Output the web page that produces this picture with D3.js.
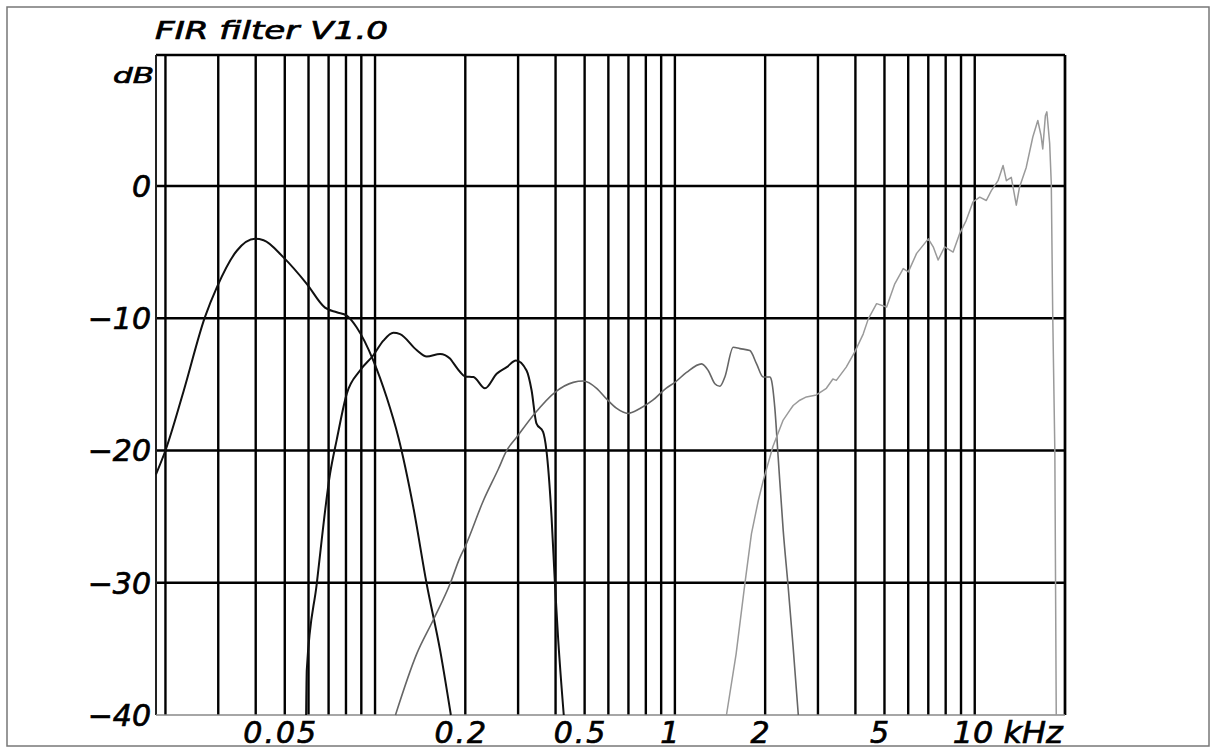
<!DOCTYPE html>
<html>
<head>
<meta charset="utf-8">
<script src="https://cdn.jsdelivr.net/npm/d3@7"></script>
<style>
  html, body { margin: 0; padding: 0; background: #fff; }
  svg { display: block; }
  text { font-family: "DejaVu Sans", "Liberation Sans", sans-serif; font-style: italic; fill: #000; stroke: #000; stroke-width: 0.7px; }
</style>
</head>
<body>
<svg id="chart" width="1216" height="753"></svg>
<script>
// ---------- data (frequency in kHz, level in dB) ----------
const wooferF  = [0.0186, 0.02, 0.023, 0.0271, 0.0297, 0.0346, 0.0398, 0.0425, 0.0495, 0.0592, 0.0681, 0.0745, 0.0805, 0.0869, 0.0987, 0.1094, 0.1196, 0.1342, 0.1487, 0.1648, 0.179];
const wooferDb = [-21.8, -20.0, -15.5, -9.9, -7.65, -4.9, -4.0, -4.1, -5.4, -7.4, -9.2, -9.55, -9.8, -10.7, -13.2, -16.0, -19.0, -24.3, -30.1, -35.1, -40];

const lowMidF  = [0.0589, 0.0592, 0.0639, 0.0708, 0.0745, 0.0805, 0.0891, 0.0987, 0.1066, 0.1151, 0.1212, 0.1376, 0.1487, 0.1648, 0.1778, 0.1826, 0.1919, 0.1995, 0.2129, 0.2326, 0.2545, 0.2749, 0.2951, 0.3201, 0.3327, 0.3453, 0.3634, 0.3729, 0.3878, 0.3981, 0.4083, 0.426];
const lowMidDb = [-40, -36.6, -30.1, -21.75, -19.2, -15.7, -13.95, -12.8, -11.7, -11.1, -11.2, -12.4, -12.9, -12.7, -13.05, -13.4, -14.05, -14.4, -14.45, -15.3, -14.2, -13.7, -13.2, -13.95, -15.45, -17.95, -18.6, -20.0, -25.0, -30.1, -34.35, -40];

const midF  = [0.117, 0.1376, 0.1565, 0.1778, 0.1919, 0.1995, 0.2297, 0.2578, 0.2749, 0.2966, 0.3409, 0.3981, 0.4581, 0.4949, 0.5483, 0.5916, 0.6381, 0.6973, 0.7621, 0.844, 0.934, 1.0, 1.0934, 1.2275, 1.2916, 1.3594, 1.4125, 1.4678, 1.5652, 1.6469, 1.7783, 1.8726, 1.9702, 2.0743, 2.1, 2.1544, 2.2102, 2.2967, 2.3865, 2.4799, 2.58];
const midDb = [-40, -35.4, -32.8, -30.1, -28.1, -27.3, -23.8, -21.4, -20.0, -19.0, -17.2, -15.6, -14.85, -14.75, -15.3, -16.1, -16.8, -17.2, -16.85, -16.2, -15.3, -14.85, -14.1, -13.45, -13.95, -14.95, -15.15, -14.45, -12.2, -12.3, -12.45, -13.45, -14.45, -14.45, -14.7, -16.8, -20.5, -26.0, -30.3, -34.9, -40];

const tweeterF  = [1.486, 1.6, 1.711, 1.8, 1.897, 1.97, 2.123, 2.297, 2.416, 2.48, 2.61, 2.745, 2.964, 3.2, 3.365, 3.455, 3.728, 3.981, 4.246, 4.416, 4.707, 5.083, 5.412, 5.774, 6.005, 6.4, 7.0, 7.27, 7.55, 7.94, 8.47, 8.91, 9.37, 9.87, 10.39, 10.93, 11.36, 11.96, 12.43, 12.75, 13.24, 13.76, 14.1, 14.85, 15.62, 16.23, 16.64, 16.86, 17.2, 17.4, 17.78, 18.0, 18.2, 18.5, 18.7];
const tweeterDb = [-40, -35.4, -30.1, -26.3, -23.8, -22.3, -19.7, -17.7, -16.97, -16.6, -16.2, -15.95, -15.8, -15.3, -14.6, -14.7, -13.7, -12.55, -11.2, -10.05, -8.9, -9.15, -7.4, -6.25, -6.5, -5.1, -4.0, -4.6, -5.6, -4.6, -5.0, -3.6, -2.6, -1.2, -0.85, -1.1, -0.35, 0.4, 1.55, 0.4, 0.65, -1.45, -0.1, 1.4, 3.7, 4.95, 3.8, 2.8, 5.3, 5.6, 3.2, 0.2, -9.7, -20.1, -40];

const yTickValues = [0, -10, -20, -30, -40];
const yTickLabels = ["0", "\u221210", "\u221220", "\u221230", "\u221240"];
const xLabelValues = [0.05, 0.2, 0.5, 1, 2, 5];
const xLabelTexts  = ["0.05", "0.2", "0.5", "1", "2", "5"];
const xUnitValue = 10;
const xUnitText = "10 kHz";
const titleText = "FIR filter V1.0";
const yUnitText = "dB";

// ---------- scales ----------
const svg = d3.select("#chart");
const x = d3.scaleLog().domain([0.0186, 20]).range([156, 1065]);
const y = d3.scaleLinear().domain([-40, 9.9]).range([715, 55]);
const [x0, x1] = x.range();
const [yB, yT] = y.range();

// outer border
svg.append("rect").attr("x", 7).attr("y", 7).attr("width", 1202).attr("height", 739)
  .attr("fill", "none").attr("stroke", "#777").attr("stroke-width", 1.5);

// vertical grid
const gridF = x.ticks().filter(f => f >= 0.0199);
svg.append("g").selectAll("line").data(gridF).join("line")
  .attr("x1", d => x(d)).attr("x2", d => x(d))
  .attr("y1", yT).attr("y2", yB)
  .attr("stroke", "#000").attr("stroke-width", 2.4);

// horizontal grid
svg.append("g").selectAll("line").data(yTickValues.filter(v => v > -40)).join("line")
  .attr("x1", x0).attr("x2", x1)
  .attr("y1", d => y(d)).attr("y2", d => y(d))
  .attr("stroke", "#000").attr("stroke-width", 2.4);

// frame
svg.append("line").attr("x1", x0).attr("x2", x1).attr("y1", yT).attr("y2", yT).attr("stroke", "#000").attr("stroke-width", 2.4);
svg.append("line").attr("x1", x0).attr("x2", x0).attr("y1", yT).attr("y2", yB).attr("stroke", "#222").attr("stroke-width", 2);
svg.append("line").attr("x1", x1).attr("x2", x1).attr("y1", yT).attr("y2", yB).attr("stroke", "#000").attr("stroke-width", 2.4);
svg.append("line").attr("x1", x0).attr("x2", x1).attr("y1", yB).attr("y2", yB).attr("stroke", "#888").attr("stroke-width", 1.6);

// curves
const curves = [
  { f: wooferF,  db: wooferDb,  color: "#111", w: 2.0, c: d3.curveMonotoneX },
  { f: lowMidF,  db: lowMidDb,  color: "#111", w: 2.0, c: d3.curveMonotoneX },
  { f: midF,     db: midDb,     color: "#666", w: 1.6, c: d3.curveMonotoneX },
  { f: tweeterF, db: tweeterDb, color: "#9a9a9a", w: 1.5, c: d3.curveLinear }
];
curves.forEach(cv => {
  const pts = cv.f.map((f, i) => [f, cv.db[i]]);
  const line = d3.line().x(d => x(d[0])).y(d => y(d[1])).curve(cv.c);
  svg.append("path").attr("d", line(pts))
    .attr("fill", "none").attr("stroke", cv.color).attr("stroke-width", cv.w)
    .attr("stroke-linejoin", "round");
});

// y tick labels
svg.append("g").selectAll("text").data(yTickValues).join("text")
  .attr("x", 151).attr("y", d => y(d) + 11)
  .attr("text-anchor", "end").attr("font-size", 30)
  .text((d, i) => yTickLabels[i]);

// x labels
svg.append("g").selectAll("text").data(xLabelValues).join("text")
  .attr("x", d => x(d) - 4).attr("y", 743)
  .attr("text-anchor", "middle").attr("font-size", 30).attr("letter-spacing", 2)
  .text((d, i) => xLabelTexts[i]);
svg.append("text").attr("x", x(xUnitValue) - 22).attr("y", 743)
  .attr("font-size", 30).attr("textLength", 110).attr("lengthAdjust", "spacingAndGlyphs")
  .text(xUnitText);

// title and unit
svg.append("text").attr("x", 155).attr("y", 39).attr("font-size", 24)
  .attr("textLength", 233).attr("lengthAdjust", "spacingAndGlyphs")
  .text(titleText);
svg.append("text").attr("x", 113).attr("y", 83).attr("font-size", 22)
  .attr("textLength", 41).attr("lengthAdjust", "spacingAndGlyphs")
  .text(yUnitText);
</script>
</body>
</html>
